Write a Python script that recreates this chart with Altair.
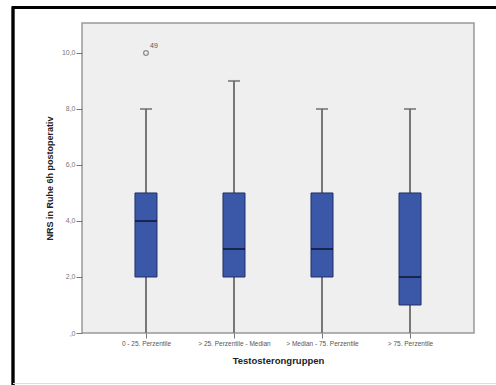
import altair as alt
import pandas as pd

# Box plot statistics per testosterone group
groups = ["0 - 25. Perzentile", "> 25. Perzentile - Median", "> Median - 75. Perzentile", "> 75. Perzentile"]
whisker_low = [0, 0, 0, 0]
q1 = [2, 2, 2, 1]
median = [4, 3, 3, 2]
q3 = [5, 5, 5, 5]
whisker_high = [8, 9, 8, 8]

# Outliers
outlier_group = ["0 - 25. Perzentile"]
outlier_value = [10]
outlier_case = ["49"]

y_ticks = [0, 2, 4, 6, 8, 10]

stats = pd.DataFrame({
    "group": groups, "lo": whisker_low, "q1": q1, "med": median, "q3": q3, "hi": whisker_high,
})
outliers = pd.DataFrame({"group": outlier_group, "value": outlier_value, "case": outlier_case})

FONT = "Liberation Sans"

x_enc = alt.X(
    "group:O",
    sort=groups,
    scale=alt.Scale(type="point", padding=0.727),
    axis=alt.Axis(
        title="Testosterongruppen", labelAngle=0, labelFontSize=6.5, labelColor="#555555",
        labelFont=FONT, titleFont=FONT, titleFontSize=9.5, titleFontWeight="bold",
        titleColor="#222222", titlePadding=9, tickColor="#777777", tickSize=5,
        domain=False, labelPadding=2,
    ),
)
y_scale = alt.Scale(domain=[0, 11.07], nice=False, zero=False)
y_axis = alt.Axis(
    title="NRS in Ruhe 6h postoperativ", values=y_ticks,
    labelExpr="datum.value == 0 ? ',0' : replace(format(datum.value, '.1f'), '.', ',')",
    labelFontSize=7, labelColor="#777777", labelFont=FONT, titleFont=FONT,
    titleFontSize=9, titleFontWeight="bold", titleColor="#222222", titlePadding=7,
    tickColor="#777777", tickSize=6, domain=False, grid=False, labelPadding=1,
)

base = alt.Chart(stats)

whisker_lo = base.mark_rule(color="#777777", strokeWidth=2).encode(
    x=x_enc, y=alt.Y("lo:Q", scale=y_scale, axis=y_axis), y2="q1:Q")
whisker_hi = base.mark_rule(color="#777777", strokeWidth=2).encode(
    x=x_enc, y=alt.Y("q3:Q", scale=y_scale, axis=y_axis), y2="hi:Q")
cap = base.mark_tick(color="#666666", size=12, thickness=2).encode(
    x=x_enc, y=alt.Y("hi:Q", scale=y_scale, axis=y_axis))
box = base.mark_bar(size=22, color="#3b57a8", stroke="#1f2f66", strokeWidth=1).encode(
    x=x_enc, y=alt.Y("q1:Q", scale=y_scale, axis=y_axis), y2="q3:Q")
med = base.mark_tick(color="#0a0f2a", size=22, thickness=2).encode(
    x=x_enc, y=alt.Y("med:Q", scale=y_scale, axis=y_axis))

out_pts = alt.Chart(outliers).mark_point(
    shape="circle", filled=False, size=22, color="#666666", strokeWidth=1.3
).encode(x=x_enc, y=alt.Y("value:Q", scale=y_scale, axis=y_axis))
out_lbl = alt.Chart(outliers).mark_text(
    dx=8, dy=-7, fontSize=7, color="#555555", font=FONT
).encode(x=x_enc, y=alt.Y("value:Q", scale=y_scale, axis=y_axis), text="case:N")

# Outer frame around the figure
frame_top = alt.Chart(stats).mark_rule(color="#000000", strokeWidth=2.5).encode(
    x=alt.value(-70), x2=alt.value(430), y=alt.value(-15.5))
frame_left = alt.Chart(stats).mark_rule(color="#000000", strokeWidth=2.5).encode(
    x=alt.value(-69), y=alt.value(-16.5), y2=alt.value(370))
frame_bottom = alt.Chart(stats).mark_rule(color="#dddddd", strokeWidth=1).encode(
    x=alt.value(-69), x2=alt.value(430), y=alt.value(360.5))

chart = alt.layer(
    whisker_lo, whisker_hi, cap, box, med, out_pts, out_lbl,
    frame_top, frame_left, frame_bottom,
).properties(
    width=392, height=310,
    autosize=alt.AutoSizeParams(type="none"),
    padding={"left": 82, "top": 23, "right": 22, "bottom": 52},
    background="#ffffff",
).configure_view(
    fill="#efefef", stroke="#999999", strokeWidth=1.5,
)

chart.save("out.html", embed_options={"renderer": "svg", "actions": False})
